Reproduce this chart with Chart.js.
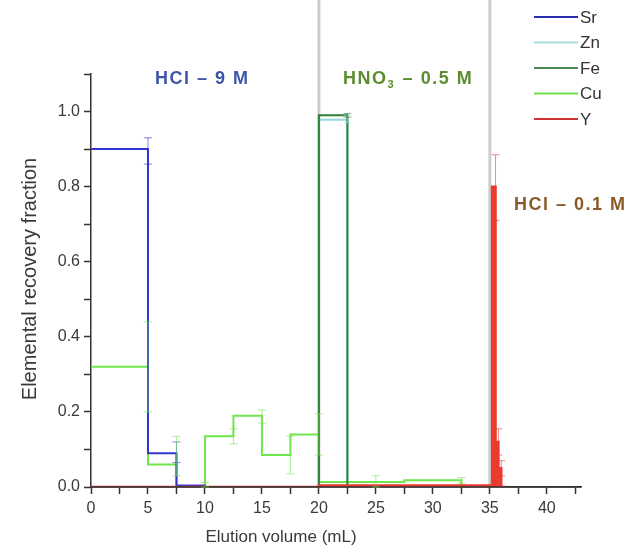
<!DOCTYPE html>
<html lang="en">
<head>
  <meta charset="UTF-8">
  <title>Elemental recovery</title>
  <script src="https://cdn.jsdelivr.net/npm/chart.js"></script>
  <style>
    body { margin: 0; background: #fff; }
    #wrap { width: 626px; height: 550px; }
  </style>
</head>
<body>
  <div id="wrap"><canvas id="chart" width="626" height="550"></canvas></div>

  <script>
    // elution volume at the end of each fraction (mL)
    const volume = [0, 5, 7.5, 10, 12.5, 15, 17.5, 20, 22.5, 25, 27.5, 30, 32.5, 35, 35.2, 35.5, 35.75, 36, 36.5];

    const srValues = [0.9, 0.9, 0.09, 0.004, 0, 0, 0, 0, 0, 0, 0, 0, 0, 0, 0, 0, 0, 0, 0];
    const znValues = [0, 0, 0, 0, 0, 0, 0, 0, 0.978, 0, 0, 0, 0, 0, 0, 0, 0, 0, 0];
    const feValues = [0, 0, 0, 0, 0, 0, 0, 0, 0.99, 0, 0, 0, 0, 0, 0, 0.008, 0.01, 0.005, 0];
    const cuValues = [0.32, 0.32, 0.06, 0, 0.135, 0.19, 0.085, 0.14, 0.013, 0.013, 0.013, 0.018, 0.018, 0, 0, 0, 0, 0, 0];
    const yValues  = [0, 0, 0, 0, 0, 0, 0, 0, 0.004, 0.004, 0.004, 0.004, 0.004, 0.004, 0.004, 0.8, 0.12, 0.05, 0];

    // error bars: [volume, low, high]
    const srErr = [[5, 0.86, 0.93], [7.5, 0.065, 0.12]];
    const znErr = [[22.5, 0.97, 0.99]];
    const feErr = [[22.5, 0.985, 0.995]];
    const cuErr = [[5, 0.2, 0.44], [7.5, 0.03, 0.135], [10, 0, 0.012], [12.5, 0.115, 0.155], [15, 0.17, 0.205],
                   [17.5, 0.035, 0.135], [20, 0.085, 0.195], [25, 0, 0.03], [32.5, 0.01, 0.025]];
    const yErr  = [[35.5, 0.71, 0.885], [35.75, 0.085, 0.155], [36, 0.03, 0.07]];

    const elements = ['Sr', 'Zn', 'Fe', 'Cu', 'Y'];
    const colors = ['#3434d2', '#92d8dc', '#2f7f37', '#6ee64c', '#ec3a2e'];
    const legendColors = ['#2c2cb0', '#a4dde0', '#4a8a50', '#6ee04c', '#cc3434'];
    const seriesValues = [srValues, znValues, feValues, cuValues, yValues];
    const seriesErr = [srErr, znErr, feErr, cuErr, yErr];
    const drawOrder = [2, 4, 1, 3, 0];   // lower = on top

    const eluentSwitch = [20, 35];
    const xTicksMajor = [0, 5, 10, 15, 20, 25, 30, 35, 40];
    const yTicksMajor = [0, 0.2, 0.4, 0.6, 0.8, 1.0];

    const FONT = "'Liberation Sans', Arial, sans-serif";

    const overlay = {
      id: 'overlay',
      beforeDatasetsDraw(chart) {
        const ctx = chart.ctx, x = chart.scales.x, area = chart.chartArea;
        ctx.save();
        ctx.strokeStyle = '#cdcdcd';
        ctx.lineWidth = 3;
        eluentSwitch.forEach(v => {
          const px = x.getPixelForValue(v);
          ctx.beginPath();
          ctx.moveTo(px, 0);
          ctx.lineTo(px, area.bottom);
          ctx.stroke();
        });
        ctx.restore();
      },
      afterDatasetsDraw(chart) {
        const ctx = chart.ctx, x = chart.scales.x, y = chart.scales.y, area = chart.chartArea;
        ctx.save();
        // x axis line back on top of the zero-level traces
        ctx.strokeStyle = '#333';
        ctx.lineWidth = 1.5;
        ctx.beginPath();
        ctx.moveTo(area.left, area.bottom);
        ctx.lineTo(area.right, area.bottom);
        ctx.stroke();

        ctx.lineWidth = 1;
        ctx.globalAlpha = 0.6;
        seriesErr.forEach((list, i) => {
          ctx.strokeStyle = colors[i];
          list.forEach(([v, lo, hi]) => {
            const px = x.getPixelForValue(v);
            const p1 = y.getPixelForValue(lo), p2 = y.getPixelForValue(hi);
            ctx.beginPath();
            ctx.moveTo(px, p1); ctx.lineTo(px, p2);
            ctx.moveTo(px - 4, p1); ctx.lineTo(px + 4, p1);
            ctx.moveTo(px - 4, p2); ctx.lineTo(px + 4, p2);
            ctx.stroke();
          });
        });
        ctx.restore();
      },
      afterDraw(chart) {
        const ctx = chart.ctx;
        ctx.save();
        ctx.letterSpacing = '0px';

        // axis titles
        ctx.fillStyle = '#3a3a3a';
        ctx.font = '17px ' + FONT;
        ctx.textAlign = 'center';
        ctx.textBaseline = 'middle';
        ctx.fillText('Elution volume (mL)', 281, 537);
        ctx.save();
        ctx.translate(30, 279);
        ctx.rotate(-Math.PI / 2);
        ctx.font = '20px ' + FONT;
        ctx.fillText('Elemental recovery fraction', 0, 0);
        ctx.restore();

        // eluent labels
        ctx.textAlign = 'left';
        ctx.textBaseline = 'alphabetic';
        ctx.letterSpacing = '1.5px';
        ctx.font = 'bold 18px ' + FONT;
        ctx.fillStyle = '#3c55a6';
        ctx.fillText('HCl – 9 M', 155, 84);

        ctx.fillStyle = '#5b8d2e';
        let tx = 343;
        ctx.fillText('HNO', tx, 84);
        tx += ctx.measureText('HNO').width;
        ctx.font = 'bold 11px ' + FONT;
        ctx.fillText('3', tx, 88);
        tx += ctx.measureText('3').width + 1;
        ctx.font = 'bold 18px ' + FONT;
        ctx.fillText(' – 0.5 M', tx, 84);

        ctx.fillStyle = '#8a5a2a';
        ctx.fillText('HCl – 0.1 M', 514, 210);

        // legend
        ctx.letterSpacing = '0px';
        ctx.font = '17px ' + FONT;
        ctx.textBaseline = 'middle';
        elements.forEach((name, i) => {
          const ly = 17 + i * 25.5;
          ctx.strokeStyle = legendColors[i];
          ctx.lineWidth = 2;
          ctx.beginPath();
          ctx.moveTo(534, ly);
          ctx.lineTo(578, ly);
          ctx.stroke();
          ctx.fillStyle = '#333';
          ctx.fillText(name, 580, ly + 1);
        });
        ctx.restore();
      }
    };

    const datasets = elements.map((name, i) => ({
      label: name,
      data: volume.map((v, j) => ({ x: v, y: seriesValues[i][j] })),
      borderColor: colors[i],
      backgroundColor: colors[i],
      borderWidth: name === 'Y' ? 2.5 : 2,
      stepped: 'after',
      pointRadius: 0,
      fill: name === 'Y' ? 'origin' : false,
      order: drawOrder[i]
    }));

    new Chart(document.getElementById('chart'), {
      type: 'line',
      data: { datasets },
      options: {
        responsive: false,
        animation: false,
        layout: { padding: { top: 74, right: 45, left: 0, bottom: 0 } },
        plugins: { legend: { display: false }, tooltip: { enabled: false } },
        scales: {
          x: {
            type: 'linear',
            min: 0,
            max: 43,
            afterFit(scale) { scale.height = 63; },
            border: { color: '#333', width: 1.5 },
            grid: { drawOnChartArea: false, tickLength: 7, tickColor: '#333', tickWidth: 1.5 },
            ticks: {
              stepSize: 2.5,
              includeBounds: false,
              autoSkip: false,
              maxRotation: 0,
              padding: 5,
              color: '#3a3a3a',
              font: { family: FONT, size: 16 },
              callback: v => xTicksMajor.includes(v) ? String(v) : ''
            }
          },
          y: {
            min: 0,
            max: 1.1,
            afterFit(scale) { scale.width = 91; },
            border: { color: '#333', width: 1.5 },
            grid: { drawOnChartArea: false, tickLength: 7, tickColor: '#333', tickWidth: 1.5 },
            ticks: {
              stepSize: 0.1,
              autoSkip: false,
              padding: 4,
              color: '#3a3a3a',
              font: { family: FONT, size: 16 },
              callback: v => yTicksMajor.some(t => Math.abs(t - v) < 1e-6) ? v.toFixed(1) : ''
            }
          }
        }
      },
      plugins: [overlay]
    });
  </script>
</body>
</html>
